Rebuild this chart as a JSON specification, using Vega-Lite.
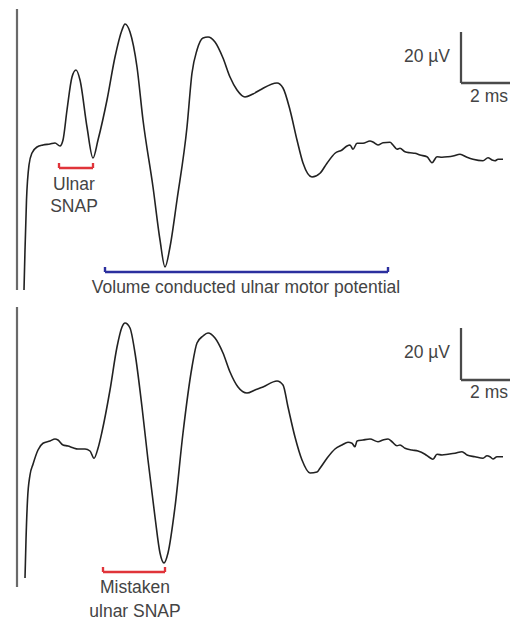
{
  "$schema": "https://vega.github.io/schema/vega-lite/v6.json",
  "padding": 0,
  "spacing": 0,
  "background": "white",
  "config": {"view": {"stroke": null}, "text": {"font": "Liberation Sans", "fontSize": 17.5, "color": "#444444"}},
  "datasets": {
    "top": [
      {"t":0.2,"v":-53.2},{"t":0.24,"v":-37.2},{"t":0.3,"v":-17.2},{"t":0.4,"v":-3.2},{"t":0.52,"v":1.6},{"t":0.72,"v":4.0},{"t":0.96,"v":4.8},{"t":1.24,"v":5.2},{"t":1.44,"v":5.6},{"t":1.64,"v":4.4},{"t":1.76,"v":6.8},{"t":1.92,"v":18.8},{"t":2.12,"v":32},{"t":2.28,"v":34.8},{"t":2.44,"v":30.8},{"t":2.72,"v":12},{"t":2.96,"v":-0.4},{"t":3.16,"v":6.8},{"t":3.52,"v":22.8},{"t":3.84,"v":40},{"t":4.12,"v":50.8},{"t":4.24,"v":53.2},{"t":4.44,"v":50},{"t":4.72,"v":36},{"t":4.96,"v":14.8},{"t":5.36,"v":-12},{"t":5.64,"v":-33.2},{"t":5.84,"v":-44},{"t":6.04,"v":-36},{"t":6.32,"v":-17.2},{"t":6.72,"v":12},{"t":6.92,"v":33.6},{"t":7.12,"v":42.8},{"t":7.36,"v":47.6},{"t":7.56,"v":48},{"t":7.84,"v":46},{"t":8.16,"v":39.6},{"t":8.44,"v":32},{"t":8.72,"v":26.8},{"t":9.04,"v":24},{"t":9.36,"v":25.2},{"t":9.64,"v":26.8},{"t":10.32,"v":29.6},{"t":10.56,"v":27.6},{"t":10.84,"v":18.8},{"t":11.12,"v":6.8},{"t":11.36,"v":-2.4},{"t":11.72,"v":-8},{"t":12.04,"v":-6.5},{"t":12.32,"v":-2.5},{"t":12.64,"v":1.5},{"t":12.92,"v":2.8},{"t":13.12,"v":4.4},{"t":13.24,"v":4.8},{"t":13.36,"v":3.1},{"t":13.52,"v":5.5},{"t":13.76,"v":5.5},{"t":14.04,"v":6.4},{"t":14.16,"v":6.0},{"t":14.36,"v":4.8},{"t":14.56,"v":5.7},{"t":14.84,"v":5.9},{"t":14.96,"v":4.8},{"t":15.12,"v":3.1},{"t":15.24,"v":3.5},{"t":15.44,"v":2.1},{"t":15.64,"v":1.7},{"t":15.84,"v":1.5},{"t":16.04,"v":0.8},{"t":16.32,"v":0.1},{"t":16.52,"v":-2.3},{"t":16.72,"v":0.1},{"t":16.92,"v":-0.1},{"t":17.16,"v":0.1},{"t":17.36,"v":0.4},{"t":17.64,"v":1.1},{"t":17.92,"v":-0.1},{"t":18.16,"v":-0.9},{"t":18.56,"v":-1.5},{"t":18.76,"v":-0.3},{"t":18.92,"v":-1.2},{"t":19.04,"v":-1.5},{"t":19.16,"v":-0.9},{"t":19.36,"v":-0.9}
    ],
    "bottom": [
      {"t":0.24,"v":-48.4},{"t":0.28,"v":-33.2},{"t":0.34,"v":-17.2},{"t":0.44,"v":-7.2},{"t":0.56,"v":-2.9},{"t":0.76,"v":2.8},{"t":0.96,"v":5.5},{"t":1.24,"v":6.4},{"t":1.44,"v":7.2},{"t":1.56,"v":6.8},{"t":1.76,"v":4.8},{"t":1.96,"v":4.4},{"t":2.16,"v":3.7},{"t":2.36,"v":3.2},{"t":2.64,"v":3.2},{"t":2.84,"v":2.4},{"t":3.0,"v":-0.5},{"t":3.16,"v":3.5},{"t":3.32,"v":10.1},{"t":3.64,"v":26.8},{"t":3.92,"v":44},{"t":4.12,"v":52},{"t":4.24,"v":53.6},{"t":4.44,"v":51.6},{"t":4.64,"v":41.6},{"t":4.92,"v":20},{"t":5.16,"v":-1.2},{"t":5.44,"v":-24},{"t":5.64,"v":-38.4},{"t":5.8,"v":-42.4},{"t":5.96,"v":-38.4},{"t":6.24,"v":-20},{"t":6.56,"v":9.6},{"t":6.92,"v":36},{"t":7.12,"v":45.6},{"t":7.36,"v":48.4},{"t":7.56,"v":49.6},{"t":7.84,"v":47.6},{"t":8.16,"v":41.6},{"t":8.44,"v":34},{"t":8.76,"v":28},{"t":9.12,"v":25.6},{"t":9.44,"v":26.8},{"t":9.76,"v":28},{"t":10.32,"v":30.4},{"t":10.56,"v":28.8},{"t":10.76,"v":20},{"t":11.04,"v":8},{"t":11.32,"v":-1.2},{"t":11.64,"v":-6.4},{"t":11.92,"v":-6},{"t":12.04,"v":-4.5},{"t":12.32,"v":-0.5},{"t":12.64,"v":3.2},{"t":12.92,"v":4.8},{"t":13.16,"v":5.9},{"t":13.32,"v":5.5},{"t":13.44,"v":4.1},{"t":13.52,"v":6.4},{"t":13.76,"v":6.8},{"t":14.04,"v":7.2},{"t":14.36,"v":6.1},{"t":14.56,"v":6.8},{"t":14.76,"v":7.2},{"t":14.92,"v":6.1},{"t":15.12,"v":4.5},{"t":15.24,"v":4.8},{"t":15.44,"v":3.5},{"t":15.72,"v":2.8},{"t":15.96,"v":2.4},{"t":16.24,"v":1.1},{"t":16.44,"v":-0.3},{"t":16.56,"v":-0.9},{"t":16.72,"v":1.1},{"t":16.92,"v":0.8},{"t":17.16,"v":1.1},{"t":17.44,"v":1.5},{"t":17.72,"v":2.1},{"t":17.92,"v":0.8},{"t":18.24,"v":0.1},{"t":18.56,"v":-0.5},{"t":18.72,"v":0.5},{"t":18.84,"v":0.1},{"t":18.96,"v":-0.8},{"t":19.12,"v":0.1},{"t":19.36,"v":0.1}
    ],
    "topSeg": [
      {"kind":"stim","t":-0.08,"t2":-0.08,"v":59.2,"v2":-53.2},
      {"kind":"bar","t":17.68,"t2":17.68,"v":50,"v2":29.6},
      {"kind":"bar","t":17.68,"t2":19.64,"v":29.6,"v2":29.6},
      {"kind":"red","t":1.6,"t2":2.96,"v":-4.4,"v2":-4.4},
      {"kind":"red","t":1.6,"t2":1.6,"v":-4.4,"v2":-2.4},
      {"kind":"red","t":2.96,"t2":2.96,"v":-4.4,"v2":-2.4},
      {"kind":"blue","t":3.44,"t2":14.76,"v":-46,"v2":-46},
      {"kind":"blue","t":3.44,"t2":3.44,"v":-46,"v2":-44},
      {"kind":"blue","t":14.76,"t2":14.76,"v":-46,"v2":-44}
    ],
    "bottomSeg": [
      {"kind":"stim","t":-0.08,"t2":-0.08,"v":60,"v2":-52},
      {"kind":"bar","t":17.68,"t2":17.68,"v":51.6,"v2":30.8},
      {"kind":"bar","t":17.68,"t2":19.64,"v":30.8,"v2":30.8},
      {"kind":"red","t":3.36,"t2":5.84,"v":-46,"v2":-46},
      {"kind":"red","t":3.36,"t2":3.36,"v":-46,"v2":-44},
      {"kind":"red","t":5.84,"t2":5.84,"v":-46,"v2":-44}
    ],
    "topText": [
      {"label":"20 µV","t":17.24,"v":40},
      {"label":"2 ms","t":18.8,"v":24},
      {"label":"Ulnar","t":2.2,"v":-11.2},
      {"label":"SNAP","t":2.2,"v":-20},
      {"label":"Volume conducted ulnar motor potential","t":9.08,"v":-52.4}
    ],
    "bottomText": [
      {"label":"20 µV","t":17.24,"v":41.6},
      {"label":"2 ms","t":18.8,"v":25.6},
      {"label":"Mistaken","t":4.64,"v":-52.4},
      {"label":"ulnar SNAP","t":4.64,"v":-62}
    ]
  },
  "vconcat": [
    {
      "width": 513,
      "height": 300,
      "layer": [
        {
          "data": {"name": "topSeg"},
          "mark": {"type": "rule", "strokeCap": "butt"},
          "encoding": {
            "x": {"field": "t", "type": "quantitative", "scale": {"domain": [-0.76, 19.76]}, "axis": null},
            "x2": {"field": "t2"},
            "y": {"field": "v", "type": "quantitative", "scale": {"domain": [-57.2, 62.8]}, "axis": null},
            "y2": {"field": "v2"},
            "color": {"field": "kind", "type": "nominal", "scale": {"domain": ["stim","bar","red","blue"], "range": ["#6a6a6a","#4a4a4a","#e0343a","#2b2f9e"]}, "legend": null},
            "strokeWidth": {"field": "kind", "type": "nominal", "scale": {"domain": ["stim","bar","red","blue"], "range": [2.2, 2.4, 1.8, 1.8]}, "legend": null}
          }
        },
        {
          "data": {"name": "top"},
          "mark": {"type": "line", "color": "#222222", "strokeWidth": 1.6, "interpolate": "monotone"},
          "encoding": {
            "x": {"field": "t", "type": "quantitative", "scale": {"domain": [-0.76, 19.76]}, "axis": null},
            "y": {"field": "v", "type": "quantitative", "scale": {"domain": [-57.2, 62.8]}, "axis": null}
          }
        },
        {
          "data": {"name": "topText"},
          "transform": [{"filter": "datum.label === '20 µV'"}],
          "mark": {"type": "text", "baseline": "middle", "align": "right"},
          "encoding": {
            "x": {"field": "t", "type": "quantitative", "scale": {"domain": [-0.76, 19.76]}, "axis": null},
            "y": {"field": "v", "type": "quantitative", "scale": {"domain": [-57.2, 62.8]}, "axis": null},
            "text": {"field": "label"}
          }
        },
        {
          "data": {"name": "topText"},
          "transform": [{"filter": "datum.label !== '20 µV'"}],
          "mark": {"type": "text", "baseline": "middle", "align": "center"},
          "encoding": {
            "x": {"field": "t", "type": "quantitative", "scale": {"domain": [-0.76, 19.76]}, "axis": null},
            "y": {"field": "v", "type": "quantitative", "scale": {"domain": [-57.2, 62.8]}, "axis": null},
            "text": {"field": "label"}
          }
        }
      ]
    },
    {
      "width": 513,
      "height": 320,
      "layer": [
        {
          "data": {"name": "bottomSeg"},
          "mark": {"type": "rule", "strokeCap": "butt"},
          "encoding": {
            "x": {"field": "t", "type": "quantitative", "scale": {"domain": [-0.76, 19.76]}, "axis": null},
            "x2": {"field": "t2"},
            "y": {"field": "v", "type": "quantitative", "scale": {"domain": [-65.2, 62.8]}, "axis": null},
            "y2": {"field": "v2"},
            "color": {"field": "kind", "type": "nominal", "scale": {"domain": ["stim","bar","red","blue"], "range": ["#6a6a6a","#4a4a4a","#e0343a","#2b2f9e"]}, "legend": null},
            "strokeWidth": {"field": "kind", "type": "nominal", "scale": {"domain": ["stim","bar","red","blue"], "range": [2.2, 2.4, 1.8, 1.8]}, "legend": null}
          }
        },
        {
          "data": {"name": "bottom"},
          "mark": {"type": "line", "color": "#222222", "strokeWidth": 1.6, "interpolate": "monotone"},
          "encoding": {
            "x": {"field": "t", "type": "quantitative", "scale": {"domain": [-0.76, 19.76]}, "axis": null},
            "y": {"field": "v", "type": "quantitative", "scale": {"domain": [-65.2, 62.8]}, "axis": null}
          }
        },
        {
          "data": {"name": "bottomText"},
          "transform": [{"filter": "datum.label === '20 µV'"}],
          "mark": {"type": "text", "baseline": "middle", "align": "right"},
          "encoding": {
            "x": {"field": "t", "type": "quantitative", "scale": {"domain": [-0.76, 19.76]}, "axis": null},
            "y": {"field": "v", "type": "quantitative", "scale": {"domain": [-65.2, 62.8]}, "axis": null},
            "text": {"field": "label"}
          }
        },
        {
          "data": {"name": "bottomText"},
          "transform": [{"filter": "datum.label !== '20 µV'"}],
          "mark": {"type": "text", "baseline": "middle", "align": "center"},
          "encoding": {
            "x": {"field": "t", "type": "quantitative", "scale": {"domain": [-0.76, 19.76]}, "axis": null},
            "y": {"field": "v", "type": "quantitative", "scale": {"domain": [-65.2, 62.8]}, "axis": null},
            "text": {"field": "label"}
          }
        }
      ]
    }
  ]
}
